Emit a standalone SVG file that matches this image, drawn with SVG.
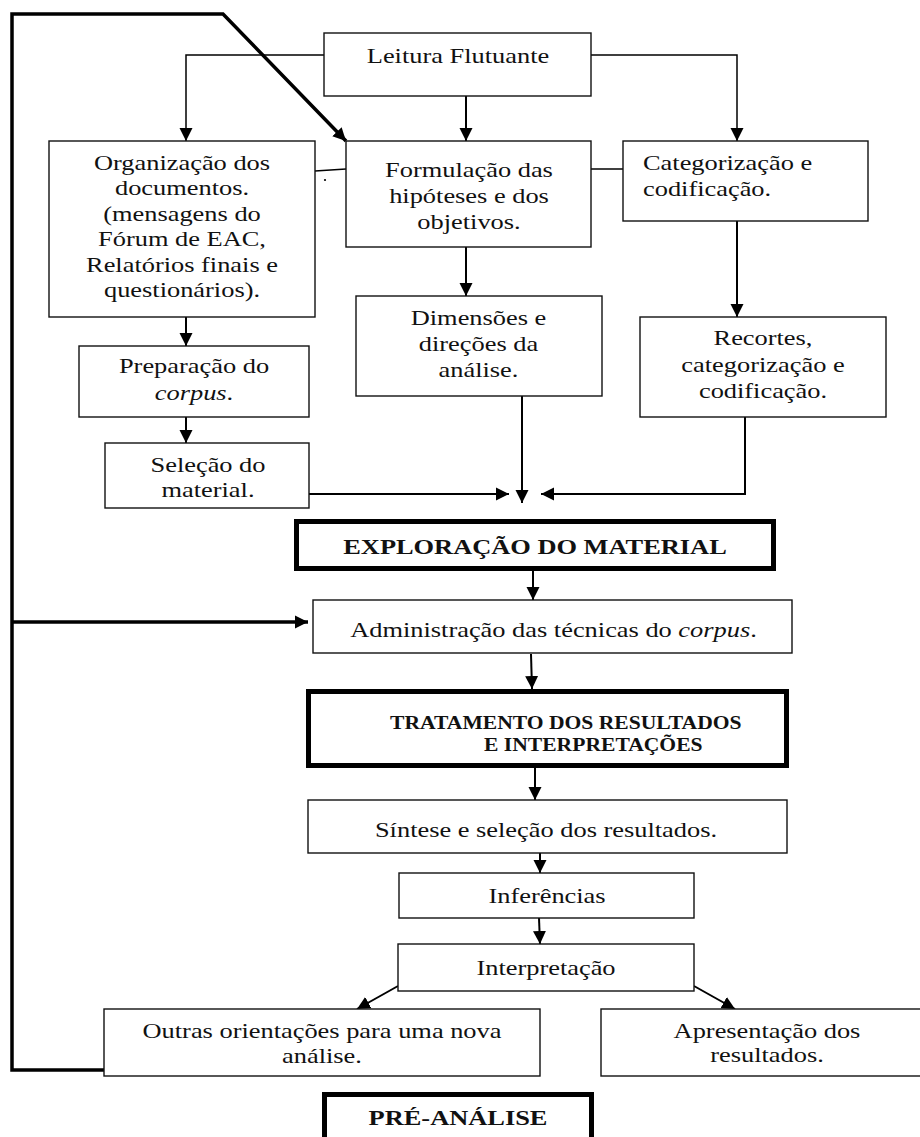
<svg xmlns="http://www.w3.org/2000/svg" width="920" height="1137" viewBox="0 0 920 1137">
<style>
.bx{fill:#fff;stroke:#111;stroke-width:1.4}
.tb{fill:#fff;stroke:#000;stroke-width:5}
.t{font-family:"Liberation Serif","Times New Roman",serif;font-size:22px;fill:#111;text-anchor:middle}
.b{font-weight:bold}
.s{text-anchor:start}
.c{fill:none;stroke:#000;stroke-width:2}
.th{fill:none;stroke:#000;stroke-width:1.5}
.lp{fill:none;stroke:#000;stroke-width:3.5}
.i{font-style:italic}
</style>
<defs>
<marker id="ah" markerUnits="userSpaceOnUse" markerWidth="14" markerHeight="14" refX="13" refY="7" orient="auto">
<path d="M0,0.5 L13,7 L0,13.5 z" fill="#000"/>
</marker>
</defs>
<g id="connectors">
<polyline class="lp" points="104,1070 12,1070 12,14 223,14 346,141" marker-end="url(#ah)"/>
<line class="lp" x1="12" y1="622" x2="308" y2="622" stroke-width="3" marker-end="url(#ah)"/>
<polyline class="th" points="324,55 186,55 186,141" marker-end="url(#ah)"/>
<polyline class="th" points="591,55 737,55 737,141" marker-end="url(#ah)"/>
<line class="c" x1="466" y1="96" x2="466" y2="141" marker-end="url(#ah)"/>
<line class="th" x1="315" y1="171" x2="346" y2="169"/>
<circle cx="325" cy="180" r="1.1" fill="#000"/>
<line class="th" x1="591" y1="169" x2="623" y2="169"/>
<line class="c" x1="737" y1="221" x2="737" y2="317" marker-end="url(#ah)"/>
<line class="c" x1="466" y1="247" x2="466" y2="296" marker-end="url(#ah)"/>
<line class="c" x1="186" y1="317" x2="186" y2="346" marker-end="url(#ah)"/>
<line class="c" x1="186" y1="417" x2="186" y2="443" marker-end="url(#ah)"/>
<line class="c" x1="309" y1="494" x2="509" y2="494" marker-end="url(#ah)"/>
<line class="c" x1="522" y1="396" x2="522" y2="503" marker-end="url(#ah)"/>
<polyline class="c" points="745,417 745,494 541,494" marker-end="url(#ah)"/>
<line class="c" x1="533" y1="571" x2="533" y2="600" marker-end="url(#ah)"/>
<line class="c" x1="531" y1="654" x2="532" y2="689" marker-end="url(#ah)"/>
<line class="c" x1="535" y1="768" x2="535" y2="800" marker-end="url(#ah)"/>
<line class="c" x1="540" y1="853" x2="540" y2="873" marker-end="url(#ah)"/>
<line class="c" x1="539" y1="918" x2="540" y2="944" marker-end="url(#ah)"/>
<line class="c" x1="398" y1="986" x2="357" y2="1009" marker-end="url(#ah)"/>
<line class="c" x1="694" y1="986" x2="735" y2="1009" marker-end="url(#ah)"/>
</g>
<g id="leitura">
<rect class="bx" x="324" y="33" width="267" height="63"/>
<text class="t" transform="translate(458,0) scale(1.2,1)" x="0" y="63">Leitura Flutuante</text>
</g>
<g id="organizacao">
<rect class="bx" x="49" y="141" width="266" height="176"/>
<text class="t" transform="translate(182,0) scale(1.2,1)"><tspan x="0" y="170">Organização dos</tspan><tspan x="0" y="195.4">documentos.</tspan><tspan x="0" y="220.8">(mensagens do</tspan><tspan x="0" y="246.2">Fórum de EAC,</tspan><tspan x="0" y="271.6">Relatórios finais e</tspan><tspan x="0" y="297">questionários).</tspan></text>
</g>
<g id="formulacao">
<rect class="bx" x="346" y="141" width="245" height="106"/>
<text class="t" transform="translate(469,0) scale(1.2,1)"><tspan x="0" y="177">Formulação das</tspan><tspan x="0" y="203">hipóteses e dos</tspan><tspan x="0" y="229">objetivos.</tspan></text>
</g>
<g id="categorizacao">
<rect class="bx" x="623" y="141" width="245" height="80"/>
<text class="t s" transform="translate(643,0) scale(1.2,1)"><tspan x="0" y="170">Categorização e</tspan><tspan x="0" y="196">codificação.</tspan></text>
</g>
<g id="dimensoes">
<rect class="bx" x="356" y="296" width="246" height="100"/>
<text class="t" transform="translate(478.5,0) scale(1.2,1)"><tspan x="0" y="325">Dimensões e</tspan><tspan x="0" y="351">direções da</tspan><tspan x="0" y="377">análise.</tspan></text>
</g>
<g id="recortes">
<rect class="bx" x="640" y="317" width="246" height="100"/>
<text class="t" transform="translate(763,0) scale(1.2,1)"><tspan x="0" y="345">Recortes,</tspan><tspan x="0" y="372">categorização e</tspan><tspan x="0" y="398">codificação.</tspan></text>
</g>
<g id="preparacao">
<rect class="bx" x="79" y="346" width="230" height="71"/>
<text class="t" transform="translate(194,0) scale(1.2,1)"><tspan x="0" y="373">Preparação do</tspan><tspan x="0" y="400"><tspan class="i">corpus</tspan>.</tspan></text>
</g>
<g id="selecao">
<rect class="bx" x="105" y="443" width="204" height="65"/>
<text class="t" transform="translate(208,0) scale(1.2,1)"><tspan x="0" y="472">Seleção do</tspan><tspan x="0" y="497">material.</tspan></text>
</g>
<g id="exploracao">
<rect class="tb" x="296.5" y="521.5" width="477" height="47"/>
<text class="t b" transform="translate(535,0) scale(1.2,1)" x="0" y="554">EXPLORAÇÃO DO MATERIAL</text>
</g>
<g id="administracao">
<rect class="bx" x="313" y="600" width="479" height="53"/>
<text class="t" transform="translate(553.5,0) scale(1.2,1)" x="0" y="637">Administração das técnicas do <tspan class="i">corpus</tspan>.</text>
</g>
<g id="tratamento">
<rect class="tb" x="308.5" y="691.5" width="478" height="74"/>
<text class="t b s" style="font-size:18px" transform="translate(390,0) scale(1.2,1)" x="0" y="729">TRATAMENTO DOS RESULTADOS</text>
<text class="t b s" style="font-size:18px" transform="translate(484,0) scale(1.2,1)" x="0" y="751">E INTERPRETAÇÕES</text>
</g>
<g id="sintese">
<rect class="bx" x="308" y="800" width="479" height="53"/>
<text class="t" transform="translate(546,0) scale(1.2,1)" x="0" y="837">Síntese e seleção dos resultados.</text>
</g>
<g id="inferencias">
<rect class="bx" x="399" y="873" width="295" height="45"/>
<text class="t" transform="translate(547,0) scale(1.2,1)" x="0" y="903">Inferências</text>
</g>
<g id="interpretacao">
<rect class="bx" x="398" y="944" width="296" height="47"/>
<text class="t" transform="translate(546,0) scale(1.2,1)" x="0" y="975">Interpretação</text>
</g>
<g id="outras">
<rect class="bx" x="104" y="1009" width="436" height="67"/>
<text class="t" transform="translate(322,0) scale(1.2,1)"><tspan x="0" y="1038">Outras orientações para uma nova</tspan><tspan x="0" y="1063">análise.</tspan></text>
</g>
<g id="apresentacao">
<rect class="bx" x="601" y="1009" width="325" height="67"/>
<text class="t" transform="translate(767,0) scale(1.2,1)"><tspan x="0" y="1038">Apresentação dos</tspan><tspan x="0" y="1062">resultados.</tspan></text>
</g>
<g id="preanalise">
<rect class="tb" x="324.5" y="1094.5" width="267" height="60"/>
<text class="t b" transform="translate(458,0) scale(1.2,1)" x="0" y="1125">PRÉ-ANÁLISE</text>
</g>
</svg>
